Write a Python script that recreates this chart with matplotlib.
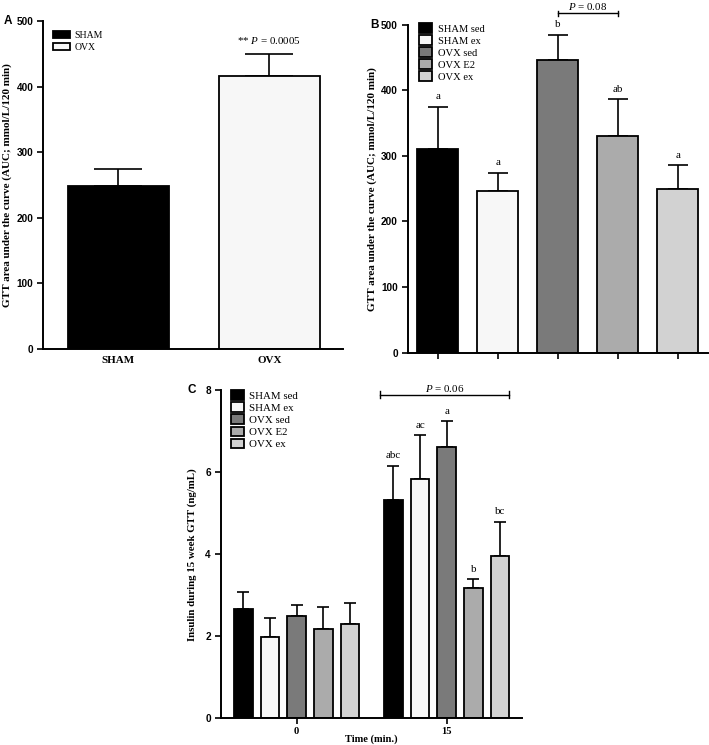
import matplotlib
matplotlib.use("Agg")
import matplotlib.pyplot as plt
from matplotlib.patches import Patch

plt.rcParams["mathtext.fontset"] = "custom"
plt.rcParams["mathtext.it"] = "Liberation Serif:italic"
plt.rcParams["mathtext.rm"] = "Liberation Serif"

W, H = 709, 745
fig = plt.figure(figsize=(W/100, H/100), dpi=100)

SERIF = "Liberation Serif"
SANS = "Liberation Sans"

# ---------------- data ----------------
a_groups = ["SHAM", "OVX"]
a_means = [248, 416]
a_sem = [26, 33]
a_colors = ["#000000", "#f7f7f7"]

b_groups = ["SHAM sed", "SHAM ex", "OVX sed", "OVX E2", "OVX ex"]
b_means = [311, 247, 446, 330, 249]
b_sem = [64, 27, 39, 56, 37]
b_letters = ["a", "a", "b", "ab", "a"]
colors5 = ["#000000", "#f7f7f7", "#7a7a7a", "#ababab", "#d2d2d2"]

c_times = ["0", "15"]
c_means_0 = [2.66, 1.97, 2.50, 2.18, 2.31]
c_sem_0 = [0.41, 0.48, 0.25, 0.54, 0.51]
c_means_15 = [5.32, 5.83, 6.61, 3.17, 3.96]
c_sem_15 = [0.84, 1.07, 0.63, 0.22, 0.83]
c_letters_15 = ["abc", "ac", "a", "b", "bc"]

YLAB = "GTT area under the curve (AUC; mmol/L/120 min)"


def add_ax(l, t, r, b):
    return fig.add_axes([l/W, 1-b/H, (r-l)/W, (b-t)/H])


def style(ax):
    for s in ["top", "right"]:
        ax.spines[s].set_visible(False)
    for s in ["left", "bottom"]:
        ax.spines[s].set_linewidth(1.4)
    ax.tick_params(axis="both", width=1.2, length=4, direction="out", pad=3)
    for lab in ax.get_yticklabels():
        lab.set_fontfamily(SANS)
        lab.set_fontweight("bold")
        lab.set_fontsize(7.2)


def bars(ax, x, means, sems, colors, width, capsize):
    ax.bar(x, means, width=width, color=colors, edgecolor="black", linewidth=1.3, zorder=2)
    ax.errorbar(x, means, yerr=[[0]*len(means), sems], fmt="none", ecolor="black",
                elinewidth=1.2, capsize=capsize, capthick=1.2, zorder=1)


def legend(ax, labels, colors, anchor, fs, hl, hh, ls):
    handles = [Patch(facecolor=c, edgecolor="black", linewidth=1.3) for c in colors]
    ax.legend(handles, labels, loc="upper left", bbox_to_anchor=anchor, frameon=False,
              prop={"family": SERIF, "size": fs}, handlelength=hl, handleheight=hh,
              handletextpad=0.5, labelspacing=ls, borderaxespad=0, borderpad=0)


# ---------------- Panel A ----------------
axA = add_ax(43, 21, 343, 349)
xa = list(range(len(a_groups)))
bars(axA, xa, a_means, a_sem, a_colors, 0.67, 17)
axA.set_xlim(-0.5, 1.487)
axA.set_ylim(0, 500)
axA.set_yticks([0, 100, 200, 300, 400, 500])
axA.set_xticks(xa)
axA.set_xticklabels(a_groups, fontfamily=SERIF, fontweight="bold", fontsize=7.9)
style(axA)
axA.tick_params(axis="x", length=0, pad=5)
axA.set_ylabel(YLAB, fontfamily=SERIF, fontweight="bold", fontsize=8, labelpad=3)
axA.annotate("** $\\it{P}$ = 0.0005", xy=(1, a_means[1] + a_sem[1]), xytext=(0, 6),
             textcoords="offset points", ha="center", va="bottom",
             fontfamily=SERIF, fontsize=7.9)
legend(axA, a_groups, a_colors, (0.033, 0.97), 7, 1.75, 0.7, 0.3)
fig.text(4/W, 1-21/H, "A", fontfamily=SANS, fontweight="bold", fontsize=8.5, va="center")

# ---------------- Panel B ----------------
axB = add_ax(407.7, 24.7, 708, 352.7)
xb = list(range(len(b_groups)))
bars(axB, xb, b_means, b_sem, colors5, 0.68, 7)
axB.set_xlim(-0.5, 4.505)
axB.set_ylim(0, 500)
axB.set_yticks([0, 100, 200, 300, 400, 500])
axB.set_xticks(xb)
axB.set_xticklabels([])
style(axB)
axB.set_ylabel(YLAB, fontfamily=SERIF, fontweight="bold", fontsize=8, labelpad=3)
for xi, m, s, lt in zip(xb, b_means, b_sem, b_letters):
    axB.annotate(lt, xy=(xi, m + s), xytext=(0, 4), textcoords="offset points",
                 ha="center", va="bottom", fontfamily=SERIF, fontsize=7.9)
yb = 517.4
axB.plot([2, 3], [yb, yb], color="black", lw=1.0, clip_on=False)
for xe in [2, 3]:
    axB.plot([xe, xe], [yb - 3.5, yb + 3.5], color="black", lw=1.0, clip_on=False)
axB.text(2.5, yb + 2.5, "$\\it{P}$ = 0.08", ha="center", va="bottom",
         fontfamily=SERIF, fontsize=7.9)
legend(axB, b_groups, colors5, (0.038, 1.005), 7.6, 1.25, 1.05, 0.15)
fig.text(370/W, 1-25/H, "B", fontfamily=SANS, fontweight="bold", fontsize=8.5, va="center")

# ---------------- Panel C ----------------
axC = add_ax(220.7, 390, 521.7, 718.3)
step = 0.178
offs = [(i - 2) * step for i in range(5)]
xc0 = [0 + o for o in offs]
xc15 = [1 + o for o in offs]
bars(axC, xc0, c_means_0, c_sem_0, colors5, 0.124, 4.5)
bars(axC, xc15, c_means_15, c_sem_15, colors5, 0.124, 4.5)
axC.set_xlim(-0.507, 1.5)
axC.set_ylim(0, 8)
axC.set_yticks([0, 2, 4, 6, 8])
axC.set_xticks([0, 1])
axC.set_xticklabels(c_times, fontfamily=SERIF, fontweight="bold", fontsize=7.6)
style(axC)
axC.tick_params(axis="x", pad=2)
axC.set_ylabel("Insulin during 15 week GTT (ng/mL)", fontfamily=SERIF,
               fontweight="bold", fontsize=7.8, labelpad=6)
axC.set_xlabel("Time (min.)", fontfamily=SERIF, fontweight="bold", fontsize=7.6, labelpad=-1)
for xi, m, s, lt in zip(xc15, c_means_15, c_sem_15, c_letters_15):
    axC.annotate(lt, xy=(xi, m + s), xytext=(0, 4), textcoords="offset points",
                 ha="center", va="bottom", fontfamily=SERIF, fontsize=7.9)
yc = 7.885
x1, x2 = xc15[0] - 0.09, xc15[-1] + 0.062
axC.plot([x1, x2], [yc, yc], color="black", lw=1.0, clip_on=False)
for xe in [x1, x2]:
    axC.plot([xe, xe], [yc - 0.08, yc + 0.08], color="black", lw=1.0, clip_on=False)
axC.text((x1 + x2) / 2, yc + 0.02, "$\\it{P}$ = 0.06", ha="center", va="bottom",
         fontfamily=SERIF, fontsize=7.9)
legend(axC, b_groups, colors5, (0.034, 1.0), 7.8, 1.2, 1.0, 0.15)
fig.text(188/W, 1-390/H, "C", fontfamily=SANS, fontweight="bold", fontsize=8.5, va="center")

fig.savefig("out.png", dpi=100)
